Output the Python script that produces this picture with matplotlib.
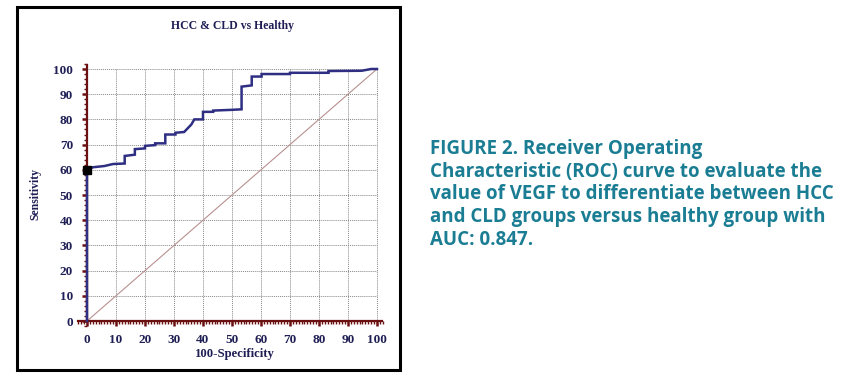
import matplotlib.pyplot as plt
from matplotlib.patches import Rectangle
from matplotlib.ticker import MultipleLocator

# ROC curve vertices (100-specificity, sensitivity)
fpr = [0, 0, 2, 6, 9, 13, 13, 16.5, 16.5, 20, 20, 23.5, 23.5, 27, 27, 30.5, 30.5, 33.5,
       36, 37, 40, 40, 43.5, 43.5, 50, 53.3, 53.3, 56.8, 56.8, 60.2, 60.2, 70, 70,
       83.3, 83.3, 94.7, 98, 100]
tpr = [0, 60, 61, 61.5, 62.3, 62.5, 65.5, 66, 68.2, 68.5, 69.5, 69.8, 70.5, 70.5, 74, 74,
       74.7, 75, 78, 80, 80, 83, 83, 83.5, 83.8, 84, 93, 93.5, 97, 97, 98, 98, 98.5,
       98.5, 99.2, 99.3, 100, 100]
cut_x = [0]
cut_y = [60]
ticks = list(range(0, 101, 10))

title = "HCC & CLD vs Healthy"
xlab = "100-Specificity"
ylab = "Sensitivity"
caption = ("FIGURE 2. Receiver Operating\n"
           "Characteristic (ROC) curve to evaluate the\n"
           "value of VEGF to differentiate between HCC\n"
           "and CLD groups versus healthy group with\n"
           "AUC: 0.847.")

W, H = 845, 378
fig = plt.figure(figsize=(W / 100, H / 100), dpi=100)

# axes placed in pixel terms: x 0->87px, 100->377px; y 0->321px, 100->69px
x0, x1 = -3, 102
y0, y1 = -2, 102
sx = (377 - 87) / 100
sy = (321 - 69) / 100
left = 87 + x0 * sx
right = 87 + x1 * sx
bottom = 321 - y0 * sy
top = 321 - y1 * sy
ax = fig.add_axes([left / W, 1 - bottom / H, (right - left) / W, (bottom - top) / H])
ax.set_xlim(x0, x1)
ax.set_ylim(y0, y1)
ax.patch.set_alpha(0)

navy = "#1f1f55"
spine_col = "#6b1010"
serif = "Liberation Serif"

# dotted grid
for t in ticks[1:]:
    ax.plot([t, t], [0, 100], color="#888888", lw=0.7, ls=(0, (1, 1)), zorder=1)
    ax.plot([0, 100], [t, t], color="#888888", lw=0.7, ls=(0, (1, 1)), zorder=1)

# reference diagonal
ax.plot([0, 100], [0, 100], color="#b89090", lw=0.8, zorder=2)

# ROC curve
ax.plot(fpr, tpr, color="#2e2e82", lw=1.8, zorder=4, solid_joinstyle="miter")
ax.plot(cut_x, cut_y, marker="s", color="black", ms=6, ls="none", zorder=5)

for s in ["top", "right"]:
    ax.spines[s].set_visible(False)
for s in ["left", "bottom"]:
    ax.spines[s].set_position(("data", 0))
    ax.spines[s].set_color(spine_col)
    ax.spines[s].set_linewidth(1.6)
ax.spines["left"].set_bounds(0, 101.6)
ax.spines["bottom"].set_bounds(-3, 101.6)

ax.set_xticks(ticks)
ax.set_yticks(ticks)
ax.xaxis.set_minor_locator(MultipleLocator(1))
ax.yaxis.set_minor_locator(MultipleLocator(2))
ax.tick_params(which="major", direction="out", length=3.5, width=1.8, color=spine_col,
               labelsize=9.5, labelcolor=navy)
ax.tick_params(which="minor", direction="out", length=2.2, width=1.0, color=spine_col)
ax.tick_params(axis="x", which="major", pad=6)
ax.tick_params(axis="y", which="major", pad=6.5)
for lb in ax.get_xticklabels() + ax.get_yticklabels():
    lb.set_fontfamily(serif)
    lb.set_fontweight("bold")

fig.text(233 / W, 1 - 26 / H, title, ha="center", va="center", fontsize=8.5,
         fontweight="bold", family=serif, color=navy)
fig.text(235 / W, 1 - 354 / H, xlab, ha="center", va="center", fontsize=9.2,
         fontweight="bold", family=serif, color=navy)
fig.text(35 / W, 1 - 194 / H, ylab, ha="center", va="center", rotation=90, fontsize=8.5,
         fontweight="bold", family=serif, color=navy)

# frame around chart
fig.patches.append(Rectangle((17 / W, 1 - 370 / H), (400 - 17) / W, (370 - 7) / H,
                             transform=fig.transFigure, fill=False, ec="black", lw=2.2))

fig.text(430 / W, 1 - 139 / H, caption, ha="left", va="top", fontsize=13.5,
         fontweight="bold", family="Open Sans", color="#1b7d93", linespacing=1.18)

fig.savefig("out.png", dpi=100)
